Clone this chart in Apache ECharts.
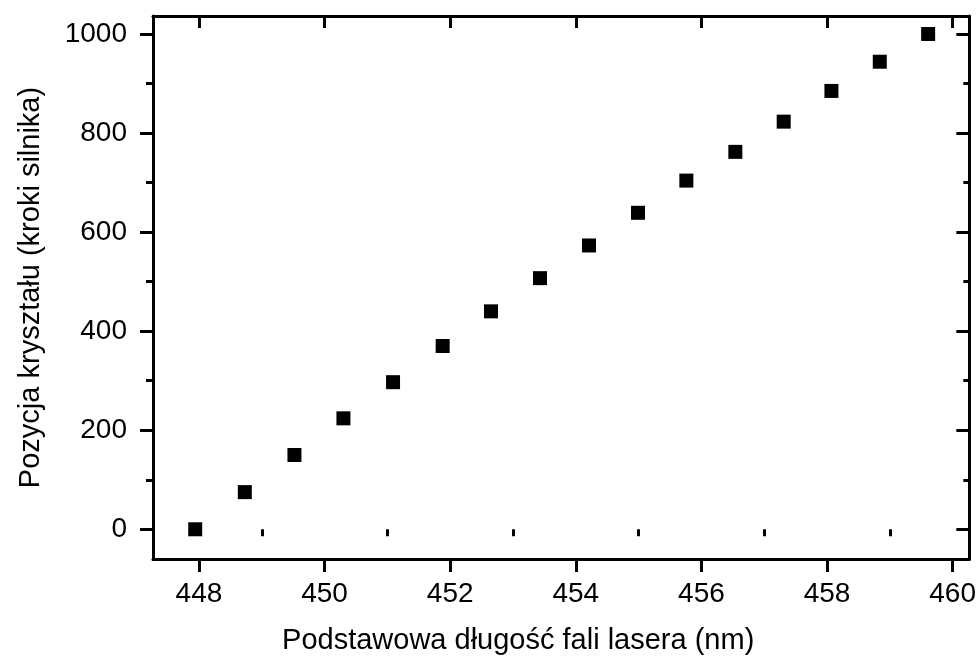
<!DOCTYPE html>
<html>
<head>
<meta charset="utf-8">
<script src="https://cdn.jsdelivr.net/npm/echarts@6/dist/echarts.min.js"></script>
<style>html,body{margin:0;padding:0;background:#fff}#c{width:979px;height:669px}</style>
</head>
<body>
<div id="c"></div>
<script>
const wavelengths = [447.94, 448.73, 449.52, 450.30, 451.09, 451.88, 452.65, 453.43, 454.21, 454.99, 455.76, 456.54, 457.31, 458.07, 458.84, 459.61];
const positions = [0, 75, 150, 224, 297, 370, 440, 507, 573, 639, 704, 762, 823, 885, 944, 1000];
const xMajorTicks = [448, 450, 452, 454, 456, 458, 460];
const xMinorTicks = [449, 451, 453, 455, 457, 459];
const yMajorTicks = [0, 200, 400, 600, 800, 1000];
const yMinorTicks = [100, 300, 500, 700, 900];
const xTitle = 'Podstawowa długość fali lasera (nm)';
const yTitle = 'Pozycja kryształu (kroki silnika)';

const FONT = "'Liberation Sans', Arial, sans-serif";
const X_MIN = 447.268, X_MAX = 460.266, Y_MIN = -60, Y_MAX = 1036.3;

function axis(base, pos, ticks, len, inside, opts) {
  return Object.assign({
    type: 'value', position: pos, min: base[0], max: base[1],
    splitLine: { show: false },
    axisLine: { show: false, lineStyle: { color: '#000', width: 3 } },
    axisTick: { show: true, inside: inside, length: len, customValues: ticks, lineStyle: { color: '#000', width: 3 } },
    axisLabel: { show: false }
  }, opts || {});
}

const chart = echarts.init(document.getElementById('c'), null, { renderer: 'canvas' });
chart.setOption({
  animation: false,
  backgroundColor: '#fff',
  grid: { left: 153, top: 16, right: 9.3, bottom: 110, containLabel: false },
  xAxis: [
    axis([X_MIN, X_MAX], 'bottom', xMajorTicks, 13, false, {
      axisLine: { show: true, onZero: false, lineStyle: { color: '#000', width: 3 } },
      axisLabel: { show: true, customValues: xMajorTicks, margin: 21, color: '#000', fontSize: 28, fontFamily: FONT,
                   formatter: v => String(v) },
      name: xTitle, nameLocation: 'middle', nameGap: 67,
      nameTextStyle: { color: '#000', fontSize: 29, fontFamily: FONT, padding: [0, 86, 0, 0] }
    }),
    axis([X_MIN, X_MAX], 'bottom', xMinorTicks, 7, false),
    axis([X_MIN, X_MAX], 'top', xMajorTicks, 12, true, {
      axisLine: { show: true, onZero: false, lineStyle: { color: '#000', width: 3 } }
    }),
    axis([X_MIN, X_MAX], 'top', xMinorTicks, 6, true)
  ],
  yAxis: [
    axis([Y_MIN, Y_MAX], 'left', yMajorTicks, 13, false, {
      axisLine: { show: true, onZero: false, lineStyle: { color: '#000', width: 3 } },
      axisLabel: { show: true, customValues: yMajorTicks, margin: 26, color: '#000', fontSize: 28, fontFamily: FONT,
                   formatter: v => String(v) },
      name: yTitle, nameLocation: 'middle', nameGap: 108,
      nameTextStyle: { color: '#000', fontSize: 29, fontFamily: FONT }
    }),
    axis([Y_MIN, Y_MAX], 'left', yMinorTicks, 7, false),
    axis([Y_MIN, Y_MAX], 'right', yMajorTicks, 13, true, {
      axisLine: { show: true, onZero: false, lineStyle: { color: '#000', width: 3 } }
    }),
    axis([Y_MIN, Y_MAX], 'right', yMinorTicks, 6, true)
  ],
  series: [{
    type: 'scatter',
    xAxisIndex: 0, yAxisIndex: 0,
    symbol: 'rect', symbolSize: 14,
    itemStyle: { color: '#000', opacity: 1 },
    data: wavelengths.map((w, i) => [w, positions[i]])
  }]
});
</script>
</body>
</html>
